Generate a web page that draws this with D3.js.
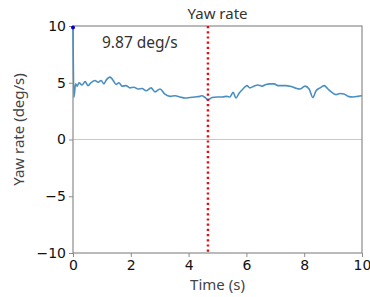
<!DOCTYPE html>
<html>
<head>
<meta charset="utf-8">
<script src="https://cdn.jsdelivr.net/npm/d3@7"></script>
<style>
  body { margin: 0; background: #fff; }
  svg { display: block; }
</style>
</head>
<body>
<svg id="chart" width="370" height="297"></svg>
<script>
const times = [0, 0.03, 0.09, 0.14, 0.21, 0.31, 0.42, 0.52, 0.62, 0.76, 0.87, 0.97, 1.07, 1.14, 1.28, 1.38, 1.49, 1.59, 1.70, 1.83, 1.97, 2.11, 2.25, 2.39, 2.53, 2.70, 2.84, 3.01, 3.18, 3.36, 3.53, 3.70, 3.88, 4.05, 4.22, 4.39, 4.46, 4.57, 4.67, 4.81, 4.98, 5.16, 5.33, 5.43, 5.54, 5.64, 5.74, 5.88, 6.02, 6.12, 6.26, 6.40, 6.54, 6.68, 6.82, 6.96, 7.09, 7.23, 7.37, 7.51, 7.68, 7.85, 8.03, 8.17, 8.30, 8.41, 8.55, 8.69, 8.82, 8.96, 9.10, 9.24, 9.38, 9.52, 9.69, 9.86, 10.0];
const yawRate = [9.87, 3.7, 4.9, 4.7, 5.0, 4.8, 5.1, 4.75, 5.0, 5.2, 5.05, 5.2, 4.9, 5.2, 5.5, 5.25, 4.85, 5.0, 4.7, 4.75, 4.55, 4.6, 4.45, 4.5, 4.3, 4.55, 4.2, 4.45, 4.0, 3.8, 3.85, 3.75, 3.65, 3.7, 3.75, 3.8, 3.85, 3.7, 3.5, 3.7, 3.75, 3.75, 3.8, 3.75, 4.15, 3.65, 4.05, 4.45, 4.75, 4.55, 4.7, 4.8, 4.7, 4.85, 4.9, 4.9, 4.75, 4.75, 4.75, 4.7, 4.55, 4.45, 4.7, 4.45, 3.7, 4.3, 4.55, 4.75, 4.45, 4.15, 3.95, 4.05, 4.0, 3.8, 3.75, 3.8, 3.85];
const xTicks = [0, 2, 4, 6, 8, 10];
const yTicks = [-10, -5, 0, 5, 10];
const markerTime = 4.67;
const peak = { t: 0, v: 9.87, label: "9.87 deg/s" };

const data = times.map((t, i) => ({ t, v: yawRate[i] }));

const margin = { top: 26, right: 8, bottom: 44, left: 73 },
  width = 370,
  height = 297,
  w = width - margin.left - margin.right,
  h = height - margin.top - margin.bottom;

const svg = d3.select("#chart");
const g = svg.append("g").attr("transform", `translate(${margin.left},${margin.top})`);

const x = d3.scaleLinear().domain([0, 10]).range([0, w]);
const y = d3.scaleLinear().domain([-10, 10]).range([h, 0]);

// zero line
g.append("line")
  .attr("x1", 0).attr("x2", w)
  .attr("y1", y(0)).attr("y2", y(0))
  .attr("stroke", "#c8c8c8").attr("stroke-width", 1);

// box
g.append("rect")
  .attr("width", w).attr("height", h)
  .attr("fill", "none").attr("stroke", "#8c8c8c").attr("stroke-width", 1.2);

const xAxis = g.append("g")
  .attr("transform", `translate(0,${h})`)
  .call(d3.axisBottom(x).tickValues(xTicks).tickSize(4).tickPadding(3).tickFormat(d3.format("d")));
const yAxis = g.append("g")
  .call(d3.axisLeft(y).tickValues(yTicks).tickSize(4).tickPadding(3)
    .tickFormat((d) => (d < 0 ? "\u2212" + Math.abs(d) : d)));

[xAxis, yAxis].forEach((a) => {
  a.select(".domain").remove();
  a.selectAll(".tick line").attr("stroke", "#8c8c8c");
  a.selectAll(".tick text")
    .attr("fill", "#111")
    .style("font-family", "DejaVu Sans")
    .style("font-size", "14px");
});

// line
g.append("path")
  .datum(data)
  .attr("fill", "none")
  .attr("stroke", "#4a8fc2")
  .attr("stroke-width", 1.6)
  .attr("d", d3.line().curve(d3.curveMonotoneX).x((d) => x(d.t)).y((d) => y(d.v)));

// peak marker
g.append("circle")
  .attr("cx", x(peak.t)).attr("cy", y(peak.v))
  .attr("r", 2).attr("fill", "#0000c8");

// red dotted marker line
g.append("line")
  .attr("x1", x(markerTime)).attr("x2", x(markerTime))
  .attr("y1", 0).attr("y2", h)
  .attr("stroke", "#e0101a").attr("stroke-width", 2.5)
  .attr("stroke-dasharray", "2.2,3");

const font = "'Noto Sans', sans-serif";

g.append("text")
  .attr("x", 29).attr("y", 22)
  .attr("fill", "#333")
  .style("font-family", font).style("font-size", "15.5px")
  .text(peak.label);

svg.append("text")
  .attr("x", margin.left + w / 2).attr("y", 19)
  .attr("text-anchor", "middle")
  .attr("fill", "#333")
  .style("font-family", font).style("font-size", "15px")
  .text("Yaw rate");

svg.append("text")
  .attr("x", margin.left + w / 2).attr("y", 290)
  .attr("text-anchor", "middle")
  .attr("fill", "#444")
  .style("font-family", font).style("font-size", "15px")
  .text("Time (s)");

svg.append("text")
  .attr("transform", `translate(24,${margin.top + y(0) - 10}) rotate(-90)`)
  .attr("text-anchor", "middle")
  .attr("fill", "#444")
  .style("font-family", font).style("font-size", "15px")
  .text("Yaw rate (deg/s)");
</script>
</body>
</html>
